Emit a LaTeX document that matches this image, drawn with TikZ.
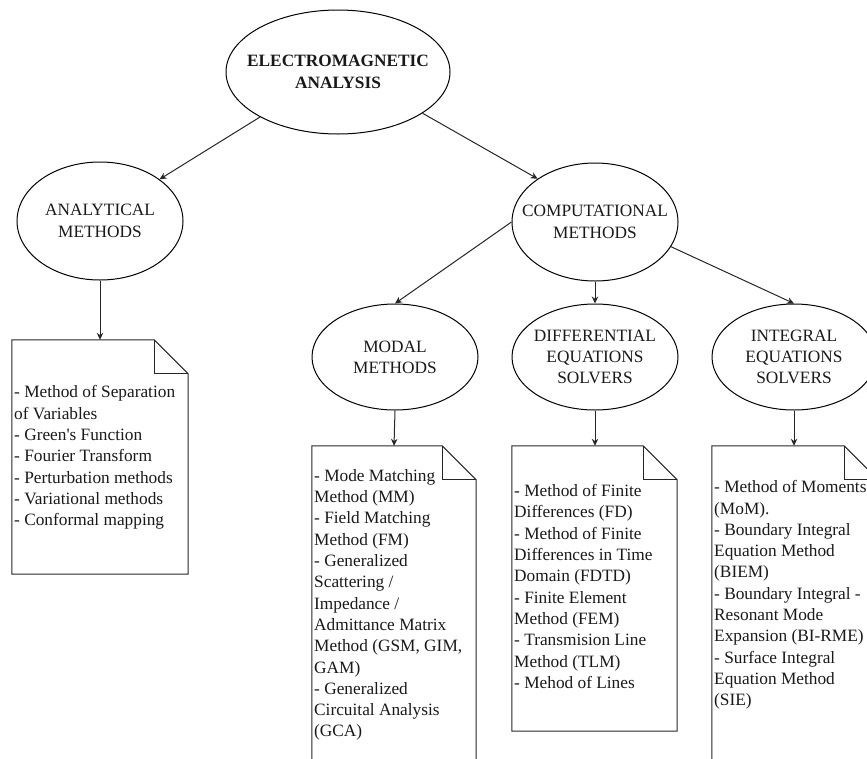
\documentclass[tikz,border=0pt]{standalone}
\usepackage{fontspec}
\setmainfont{Liberation Serif}[Ligatures=TeXOff]
\usetikzlibrary{shapes.geometric,arrows.meta}

% Outline of a sheet with a folded top-right corner, drawn round a node
\newcommand\foldnote[1]{%
  \draw[noteline] (#1.south west) -- (#1.north west)
    -- ([xshift=-34pt]#1.north east) -- ([yshift=-34pt]#1.north east)
    -- (#1.south east) -- cycle;
  \draw[noteline] ([xshift=-34pt]#1.north east)
    -- ([xshift=-34pt,yshift=-34pt]#1.north east)
    -- ([yshift=-34pt]#1.north east);}

\begin{document}
\begin{tikzpicture}[x=1pt,y=-1pt,
  every node/.style={font=\fontsize{17.3}{21.3}\selectfont,text=black!90},
  % negative inner sep lets the minimum size fix the oval, not the text
  oval/.style={ellipse,draw,line width=1pt,inner sep=-40pt,align=center},
  sheet/.style={draw=none,inner sep=0pt},
  noteline/.style={line width=1pt,draw=black!85},
  listtext/.style={anchor=west,align=left,inner sep=0pt},
  link/.style={draw=black!85,line width=1pt,-{Stealth[length=7pt,width=6.5pt]}}
]
\useasboundingbox (0,0) rectangle (867,758);
\clip (0,0) rectangle (867,758);

% method ovals
\node[oval,minimum width=224pt,minimum height=124pt] (em) at (338,72)
  {\textbf{ELECTROMAGNETIC}\\\textbf{ANALYSIS}};
\node[oval,minimum width=166pt,minimum height=118pt] (ana) at (100,221)
  {ANALYTICAL\\METHODS};
\node[oval,minimum width=166pt,minimum height=118pt] (comp) at (595,222)
  {COMPUTATIONAL\\METHODS};
\node[oval,minimum width=166pt,minimum height=106pt] (modal) at (395,357)
  {MODAL\\METHODS};
\node[oval,minimum width=166pt,minimum height=106pt] (diff) at (595,357)
  {DIFFERENTIAL\\EQUATIONS\\SOLVERS};
\node[oval,minimum width=164pt,minimum height=106pt] (integ) at (794,357)
  {INTEGRAL\\EQUATIONS\\SOLVERS};

% sheets listing the methods
\node[sheet,minimum width=176pt,minimum height=234pt] (anaNote) at (100,457) {};
\node[sheet,minimum width=164pt,minimum height=318pt] (modalNote) at (394,605) {};
\node[sheet,minimum width=165pt,minimum height=285pt] (diffNote) at (594.5,588.5) {};
\node[sheet,minimum width=166pt,minimum height=324pt] (integNote) at (795,608) {};
\foldnote{anaNote}
\foldnote{modalNote}
\foldnote{diffNote}
\foldnote{integNote}

\node[listtext] (anaList) at (14,457.5)
  {- Method of Separation\\of Variables\\- Green's Function\\- Fourier Transform\\- Perturbation methods\\- Variational methods\\- Conformal mapping};
\node[listtext] (modalList) at (314,605)
  {- Mode Matching\\Method (MM)\\- Field Matching\\Method (FM)\\- Generalized\\Scattering /\\Impedance /\\Admittance Matrix\\Method (GSM, GIM,\\GAM)\\- Generalized\\Circuital Analysis\\(GCA)};
\node[listtext] (diffList) at (514,586.5)
  {- Method of Finite\\Differences (FD)\\- Method of Finite\\Differences in Time\\Domain (FDTD)\\- Finite Element\\Method (FEM)\\- Transmision Line\\Method (TLM)\\- Mehod of Lines};
\node[listtext] (integList) at (714,595)
  {- Method of Moments\\(MoM).\\- Boundary Integral\\Equation Method\\(BIEM)\\- Boundary Integral -\\Resonant Mode\\Expansion (BI-RME)\\- Surface Integral\\Equation Method\\(SIE)};

% connectors
\draw[link] (em.210) -- (ana.35);
\draw[link] (em.-26) -- (comp.143);
\draw[link] (ana.south) -- (anaNote.north);
\draw[link] (comp.west) -- (modal.north);
\draw[link] (comp.south) -- (diff.north);
\draw[link] (comp.-18) -- (integ.north);
\draw[link] (modal.south) -- (modalNote.north);
\draw[link] (diff.south) -- ([xshift=0.5pt]diffNote.north);
\draw[link] (integ.south) -- ([xshift=-1pt]integNote.north);
\end{tikzpicture}
\end{document}
